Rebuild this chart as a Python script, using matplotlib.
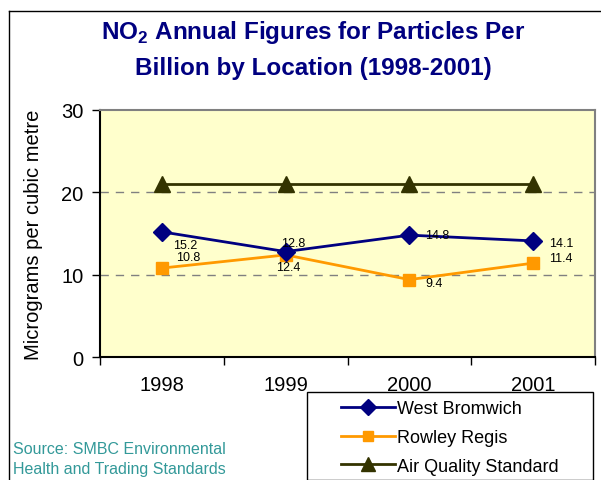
import matplotlib.pyplot as plt
from matplotlib.lines import Line2D
from matplotlib.patches import Rectangle

plt.rcParams['font.family'] = ['Liberation Sans', 'DejaVu Sans']
plt.rcParams['mathtext.fontset'] = 'custom'
plt.rcParams['mathtext.rm'] = 'Liberation Sans'
plt.rcParams['mathtext.bf'] = 'Liberation Sans:bold'

# data
years = ['1998', '1999', '2000', '2001']
west_bromwich = [15.2, 12.8, 14.8, 14.1]
rowley_regis = [10.8, 12.4, 9.4, 11.4]
air_quality_std = [21, 21, 21, 21]

# label offsets in pixels (dx, dy) per point
wb_offsets = [(11, -13), (-5, 9), (16, 0), (16, -2)]
rr_offsets = [(14, 11), (-10, -12), (16, -3), (16, 5)]

W, H = 601, 481
fig = plt.figure(figsize=(W / 100, H / 100), dpi=100)
fig.patch.set_facecolor('white')

# outer chart border (cropped on right/bottom)
fig.add_artist(Line2D([9 / W, 9 / W], [0, 1 - 12 / H], color='black', lw=1))
fig.add_artist(Line2D([9 / W, 1], [1 - 12 / H, 1 - 12 / H], color='black', lw=1))

ax = fig.add_axes([100 / W, 1 - 358 / H, 495 / W, 247 / H])
ax.set_facecolor('#FFFFCC')

x = list(range(len(years)))
ax.plot(x, air_quality_std, color='#333300', lw=2, marker='^', markersize=12,
        label='Air Quality Standard', zorder=3)
ax.plot(x, rowley_regis, color='#FF9900', lw=2, marker='s', markersize=8,
        label='Rowley Regis', zorder=3)
ax.plot(x, west_bromwich, color='#000080', lw=2, marker='D', markersize=9,
        label='West Bromwich', zorder=4)

for i in x:
    ax.annotate(f'{west_bromwich[i]}', (i, west_bromwich[i]), xytext=wb_offsets[i],
                textcoords='offset pixels', fontsize=9, ha='left', va='center', zorder=5)
    ax.annotate(f'{rowley_regis[i]}', (i, rowley_regis[i]), xytext=rr_offsets[i],
                textcoords='offset pixels', fontsize=9, ha='left', va='center', zorder=5)

ax.set_xlim(-0.5, 3.5)
ax.set_ylim(0, 30)
ax.set_yticks([0, 10, 20, 30])
ax.set_xticks(x)
ax.set_xticklabels(years)
ax.set_xticks([-0.5, 0.5, 1.5, 2.5, 3.5], minor=True)
ax.tick_params(axis='x', which='major', length=0, labelsize=14.5, pad=13)
ax.tick_params(axis='x', which='minor', length=6, width=1, direction='out')
ax.tick_params(axis='y', length=6, width=1, direction='out', labelsize=14.5, pad=6)

for y in [10, 20]:
    ax.axhline(y, color='#808080', lw=1, ls=(0, (6, 5)), zorder=1)

ax.spines['top'].set_color('#808080')
ax.spines['right'].set_color('#808080')
for s in ax.spines.values():
    s.set_linewidth(1.5)

ax.set_ylabel('Micrograms per cubic metre', fontsize=14.5, labelpad=13)

fig.text(313 / W, 1 - 32 / H, r'NO$_\mathbf{2}$ Annual Figures for Particles Per',
         ha='center', va='center', fontsize=17.5, fontweight='bold', color='#000080')
fig.text(313 / W, 1 - 68 / H, 'Billion by Location (1998-2001)',
         ha='center', va='center', fontsize=17.5, fontweight='bold', color='#000080')

fig.text(13 / W, 1 - 450 / H, 'Source: SMBC Environmental', fontsize=11.5,
         color='#339999', va='center')
fig.text(13 / W, 1 - 470 / H, 'Health and Trading Standards', fontsize=11.5,
         color='#339999', va='center')

# legend box
fig.add_artist(Rectangle((307 / W, 0), 286 / W, 1 - 393 / H, transform=fig.transFigure,
                         facecolor='white', edgecolor='black', lw=1, zorder=5))
h, l = ax.get_legend_handles_labels()
order = [2, 1, 0]
leg = fig.legend([h[i] for i in order], [l[i] for i in order], loc='upper left',
                 bbox_to_anchor=(334 / W, 1 - 394 / H), frameon=False, fontsize=13,
                 handlelength=3.0, handletextpad=0.1, labelspacing=0.65, borderaxespad=0,
                 markerscale=0.85)
leg.set_zorder(6)

fig.savefig('out.png', dpi=100)
